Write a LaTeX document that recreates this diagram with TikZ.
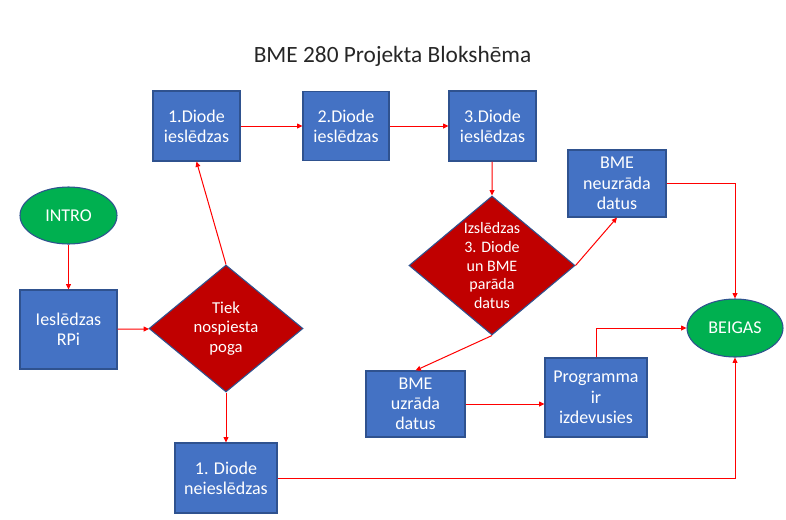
\documentclass[tikz,border=0pt]{standalone}
\usepackage{fontspec}
\setmainfont{Carlito}
\usepackage{xcolor}
\usepackage{tikz}
\usetikzlibrary{shapes.geometric,arrows.meta}
\definecolor{boxfill}{HTML}{4472C4}
\definecolor{boxline}{HTML}{2F528F}
\definecolor{askfill}{HTML}{C00000}
\definecolor{endfill}{HTML}{00B050}
\definecolor{flow}{HTML}{FF0000}
\definecolor{title}{HTML}{262626}
\tikzset{
  stepbox/.style={rectangle, draw=boxline, fill=boxfill, line width=0.8pt, text=white,
    align=center, inner sep=0pt, font=\fontsize{13.5}{15.2}\selectfont},
  ask/.style={diamond, draw=boxline, fill=askfill, line width=0.8pt, text=white,
    align=center, inner sep=-6pt, font=\fontsize{12.5}{14.6}\selectfont},
  term/.style={ellipse, draw=boxline, fill=endfill, line width=0.8pt, text=white,
    inner sep=0pt, font=\fontsize{13.5}{15}\selectfont},
  link/.style={draw=flow, line width=0.75pt, -{Triangle[length=4pt,width=3.6pt]}},
  head/.style={text=title, font=\fontsize{17.5}{21}\selectfont},
}
\begin{document}
\begin{tikzpicture}[x=0.75pt,y=-0.75pt]
  \useasboundingbox (0,0) rectangle (786,519);
  \node[head,anchor=base] (title) at (392.5,62) {BME 280 Projekta Blokshēma};

  % start
  \node[term,minimum width=72.75pt,minimum height=42.75pt] (intro) at (68.5,215.5) {INTRO};
  \node[stepbox,minimum width=72.75pt,minimum height=59.25pt] (rpi) at (68.5,329.5) {Ieslēdzas\\RPi};
  \node[ask,minimum width=115.5pt,minimum height=95.25pt] (poga) at (226,328.5) {Tiek\\nospiesta\\poga};

  % diodes in a row
  \node[stepbox,minimum width=65.25pt,minimum height=52.5pt] (d1) at (196.5,126) {1.Diode\\ieslēdzas};
  \node[stepbox,minimum width=64.5pt,minimum height=51.75pt] (d2) at (346,126) {2.Diode\\ieslēdzas};
  \node[stepbox,minimum width=65.25pt,minimum height=52.5pt] (d3) at (492.5,126) {3.Diode\\ieslēdzas};
  \node[ask,minimum width=124.5pt,minimum height=104.25pt,font=\fontsize{12}{14}\selectfont]
    (izsl) at (492,265.5) {Izslēdzas\\3. Diode\\un BME\\parāda\\datus};

  % outcomes
  \node[stepbox,minimum width=73.5pt,minimum height=50.25pt] (neuz) at (617,183.5) {BME\\neuzrāda\\datus};
  \node[stepbox,minimum width=74.25pt,minimum height=49.5pt] (uzr) at (415.5,404) {BME\\uzrāda\\datus};
  \node[stepbox,minimum width=76.5pt,minimum height=59.25pt] (prog) at (596,397.5) {Programma\\ir\\izdevusies};
  \node[stepbox,minimum width=76.5pt,minimum height=52.5pt] (nei) at (226,478) {1. Diode\\neieslēdzas};
  \node[term,minimum width=72pt,minimum height=43.5pt] (beigas) at (735,328) {BEIGAS};

  \draw[link] (intro) -- (rpi);
  \draw[link] (rpi) -- (poga);
  \draw[link] (poga.north) -- (d1.south);
  \draw[link] (poga.south) -- (nei.north);
  \draw[link] (d1) -- (d2);
  \draw[link] (d2) -- (d3);
  \draw[link] (d3) -- (izsl.north);
  \draw[link] (izsl.east) -- (neuz.south);
  \draw[link] (izsl.south) -- (uzr.north);
  \draw[link] (uzr.east) -- (uzr.east -| prog.west);
  \draw[link] (neuz.east) -| (beigas.north);
  \draw[link] (prog.north) |- (beigas.west);
  \draw[link] (nei.east) -| (beigas.south);
\end{tikzpicture}
\end{document}
